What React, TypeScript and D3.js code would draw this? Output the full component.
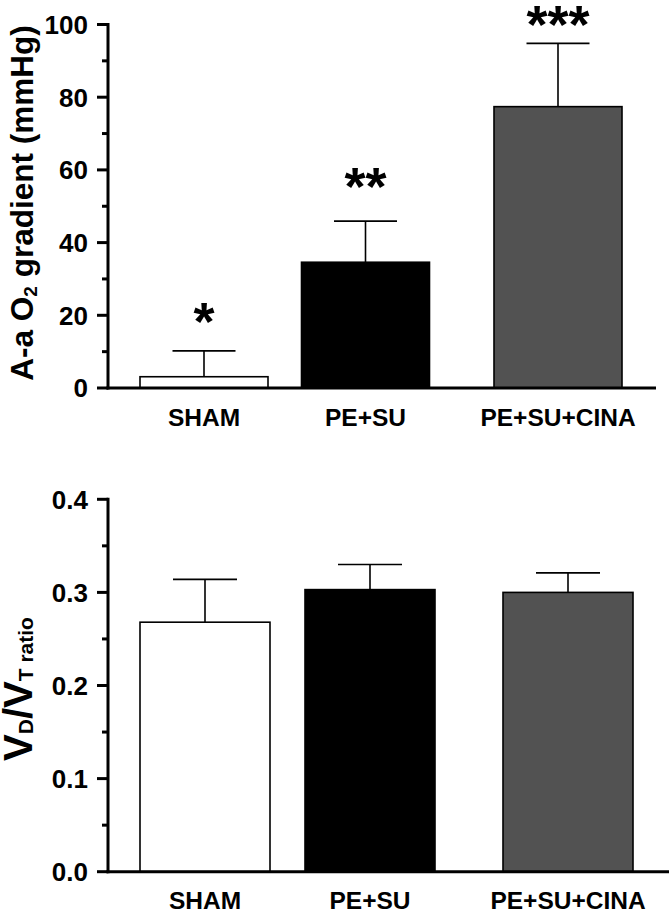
import React from "react";
import * as d3 from "d3";

const categories = ["SHAM", "PE+SU", "PE+SU+CINA"];
const gradientMean = [3.1, 34.6, 77.4];
const gradientSEM = [7.1, 11.3, 17.4];
const gradientStars = ["*", "**", "***"];
const gradientTicks = [0, 20, 40, 60, 80, 100];
const gradientMinor = [10, 30, 50, 70, 90];

const vdvtMean = [0.268, 0.303, 0.3];
const vdvtSEM = [0.046, 0.027, 0.021];
const vdvtTicks = [0, 0.1, 0.2, 0.3, 0.4];
const vdvtMinor = [0.05, 0.15, 0.25, 0.35];

const fills = ["#ffffff", "#000000", "#525252"];
const FONT = "'Liberation Sans', Arial, Helvetica, sans-serif";

export default function App() {
  const axisX = 108;

  // top panel
  const yTop = d3.scaleLinear().domain([0, 100]).range([388, 24.5]);
  const xTop = d3.scaleOrdinal<string, number>().domain(categories).range([204, 365.5, 558]);
  const topBarW = 128;
  const topCapW = 63;
  const starGap = [11, 16, 0];

  // bottom panel
  const yBot = d3.scaleLinear().domain([0, 0.4]).range([871.7, 499.3]);
  const xBot = d3.scaleOrdinal<string, number>().domain(categories).range([205, 370, 568]);
  const botBarW = 130;
  const botCapW = 64;

  const tickFmtTop = (v: number) => d3.format("d")(v);
  const tickFmtBot = (v: number) => d3.format(".1f")(v);

  return (
    <svg width={670} height={912} style={{ display: "block", position: "absolute", left: 0, top: 0 }} viewBox="0 0 670 912">
      <rect x={0} y={0} width={670} height={912} fill="#fff" />
      <g fontFamily={FONT} fontWeight="bold">
        {/* ===== TOP PANEL ===== */}
        {categories.map((c, i) => {
          const cx = xTop(c);
          const top = yTop(gradientMean[i]);
          const err = yTop(gradientMean[i] + gradientSEM[i]);
          return (
            <g key={"tb" + c}>
              <line x1={cx} x2={cx} y1={top} y2={err} stroke="#000" strokeWidth={1.6} />
              <line x1={cx - topCapW / 2} x2={cx + topCapW / 2} y1={err} y2={err} stroke="#000" strokeWidth={1.6} />
              <rect x={cx - topBarW / 2} y={top} width={topBarW} height={yTop(0) - top} fill={fills[i]} stroke="#000" strokeWidth={1.6} />
              <text x={cx} y={err - starGap[i]} textAnchor="middle" fontSize={54} fontWeight="bold">{gradientStars[i]}</text>
              <text x={cx} y={426} textAnchor="middle" fontSize={24.5}>{c}</text>
            </g>
          );
        })}
        <line x1={axisX} x2={axisX} y1={yTop(100) - 1.5} y2={yTop(0) + 1.5} stroke="#000" strokeWidth={3} />
        <line x1={axisX - 1.5} x2={656} y1={yTop(0)} y2={yTop(0)} stroke="#000" strokeWidth={3} />
        {gradientTicks.map((t) => (
          <g key={"tt" + t}>
            <line x1={axisX - 11} x2={axisX} y1={yTop(t)} y2={yTop(t)} stroke="#000" strokeWidth={3} />
            <text x={88} y={yTop(t)} dy="0.36em" textAnchor="end" fontSize={26}>{tickFmtTop(t)}</text>
          </g>
        ))}
        {gradientMinor.map((t) => (
          <line key={"tm" + t} x1={axisX - 6} x2={axisX} y1={yTop(t)} y2={yTop(t)} stroke="#000" strokeWidth={3} />
        ))}
        <text transform="translate(33,203) rotate(-90)" textAnchor="middle" fontSize={31.5}>
          A-a O<tspan fontSize={19} dy={4}>2</tspan><tspan dy={-4}> gradient (mmHg)</tspan>
        </text>

        {/* ===== BOTTOM PANEL ===== */}
        {categories.map((c, i) => {
          const cx = xBot(c);
          const top = yBot(vdvtMean[i]);
          const err = yBot(vdvtMean[i] + vdvtSEM[i]);
          return (
            <g key={"bb" + c}>
              <line x1={cx} x2={cx} y1={top} y2={err} stroke="#000" strokeWidth={1.6} />
              <line x1={cx - botCapW / 2} x2={cx + botCapW / 2} y1={err} y2={err} stroke="#000" strokeWidth={1.6} />
              <rect x={cx - botBarW / 2} y={top} width={botBarW} height={yBot(0) - top} fill={fills[i]} stroke="#000" strokeWidth={1.6} />
              <text x={cx} y={909} textAnchor="middle" fontSize={24.5}>{c}</text>
            </g>
          );
        })}
        <line x1={axisX} x2={axisX} y1={yBot(0.4) - 1.5} y2={yBot(0) + 1.5} stroke="#000" strokeWidth={3} />
        <line x1={axisX - 1.5} x2={669} y1={yBot(0)} y2={yBot(0)} stroke="#000" strokeWidth={3} />
        {vdvtTicks.map((t) => (
          <g key={"bt" + t}>
            <line x1={axisX - 11} x2={axisX} y1={yBot(t)} y2={yBot(t)} stroke="#000" strokeWidth={3} />
            <text x={88} y={yBot(t)} dy="0.36em" textAnchor="end" fontSize={26}>{tickFmtBot(t)}</text>
          </g>
        ))}
        {vdvtMinor.map((t) => (
          <line key={"bm" + t} x1={axisX - 6} x2={axisX} y1={yBot(t)} y2={yBot(t)} stroke="#000" strokeWidth={3} />
        ))}
        <text transform="translate(32,689) rotate(-90)" textAnchor="middle" fontSize={40}>
          V<tspan fontSize={21} dy={1}>D</tspan><tspan fontSize={40} dy={-1}>/V</tspan><tspan fontSize={21} dy={1}>T</tspan><tspan fontSize={21}> ratio</tspan>
        </text>
      </g>
    </svg>
  );
}
